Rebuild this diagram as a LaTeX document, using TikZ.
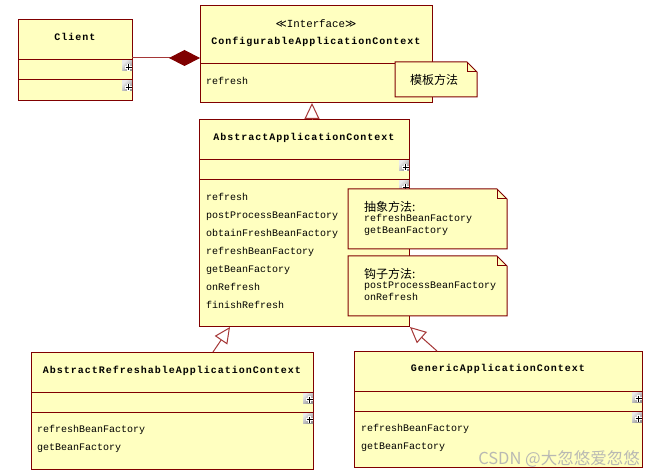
\documentclass[tikz,border=0pt]{standalone}
\usepackage{fontspec}
\usetikzlibrary{arrows.meta}
\newfontfamily\monof{Liberation Mono}
\newfontfamily\monob[LetterSpace=10]{Liberation Mono}
\newfontfamily\cjkf{Noto Sans CJK SC}
\newfontfamily\symf{DejaVu Sans}
\definecolor{clsred}{RGB}{128,0,0}
\definecolor{clsfill}{RGB}{255,255,192}
\definecolor{arrred}{RGB}{165,55,55}
\newcommand\plusicon[2]{%
  \shade[top color=gray!15,bottom color=gray!85,shading angle=45] (#1-10,#2) rectangle (#1,#2+10);
  \draw[white,line width=2.6pt] (#1-7,#2+6.5) -- (#1-0.5,#2+6.5) (#1-3.5,#2+3) -- (#1-3.5,#2+10);
  \draw[black,line width=1pt] (#1-6.5,#2+6.5) -- (#1-0.5,#2+6.5) (#1-3.5,#2+3.5) -- (#1-3.5,#2+9.5);
}
\begin{document}
\begin{tikzpicture}[x=1pt,y=-1pt,
  cls/.style={draw=clsred,fill=clsfill,line width=1pt,anchor=north west,inner sep=0pt,outer sep=0pt},
  divider/.style={draw=clsred,line width=1pt},
  cname/.style={inner sep=0pt,text height=7pt,text depth=2pt,font=\monob\bfseries\fontsize{10}{12}\selectfont},
  mtext/.style={anchor=west,inner sep=0pt,text height=7pt,text depth=2pt,font=\monof\fontsize{10}{12}\selectfont},
  ntext/.style={anchor=west,inner sep=0pt,text height=7pt,text depth=2pt,font=\monof\fontsize{10}{12}\selectfont},
  ctext/.style={anchor=west,inner sep=0pt,font=\cjkf\fontsize{12}{14}\selectfont},
  notebox/.style={draw=clsred,fill=clsfill,line width=1pt},
  inh/.style={draw=arrred,line width=1pt,-{Triangle[open,length=16pt,width=15pt]}},
  agg/.style={draw=arrred,line width=1pt,-{Diamond[length=31pt,width=16pt,fill=clsred,color=clsred]}}
]
\useasboundingbox[fill=white] (0,0) rectangle (657,476);

% Client
\node[cls,minimum width=114pt,minimum height=81pt] (client) at (18,20) {};
\draw[divider] (18,60) -- (132,60);
\draw[divider] (18,80) -- (132,80);
\node[cname] (clientname) at (75,38) {Client};
\plusicon{132}{61}
\plusicon{132}{81}

% Interface
\node[cls,minimum width=232pt,minimum height=97pt] (iface) at (200,6) {};
\draw[divider] (200,64) -- (432,64);
\node[inner sep=0pt,font=\fontsize{10.8}{12}\selectfont] (ifstereo) at (316,24) {{\symf ≪}{\monof Interface}{\symf ≫}};
\node[cname] (ifname) at (316,42) {ConfigurableApplicationContext};
\node[mtext] (ifm1) at (206,82) {refresh};

% Abstract
\node[cls,minimum width=210pt,minimum height=207pt] (abs) at (199,120) {};
\draw[divider] (199,160) -- (409,160);
\draw[divider] (199,180) -- (409,180);
\node[cname] (absname) at (304,138) {AbstractApplicationContext};
\plusicon{409}{161}
\plusicon{409}{181}
\node[mtext] (am1) at (206,198) {refresh};
\node[mtext] (am2) at (206,216) {postProcessBeanFactory};
\node[mtext] (am3) at (206,234) {obtainFreshBeanFactory};
\node[mtext] (am4) at (206,252) {refreshBeanFactory};
\node[mtext] (am5) at (206,270) {getBeanFactory};
\node[mtext] (am6) at (206,288) {onRefresh};
\node[mtext] (am7) at (206,306) {finishRefresh};

% AbstractRefreshable
\node[cls,minimum width=282pt,minimum height=117pt] (arc) at (31,352) {};
\draw[divider] (31,392) -- (313,392);
\draw[divider] (31,412) -- (313,412);
\node[cname] (arcname) at (172,371) {AbstractRefreshableApplicationContext};
\plusicon{313}{393}
\plusicon{313}{413}
\node[mtext] (rm1) at (37,430) {refreshBeanFactory};
\node[mtext] (rm2) at (37,448) {getBeanFactory};

% Generic
\node[cls,minimum width=288pt,minimum height=116pt] (gen) at (354,351) {};
\draw[divider] (354,391) -- (642,391);
\draw[divider] (354,411) -- (642,411);
\node[cname] (genname) at (498,369) {GenericApplicationContext};
\plusicon{642}{392}
\plusicon{642}{412}
\node[mtext] (gm1) at (361,429) {refreshBeanFactory};
\node[mtext] (gm2) at (361,447) {getBeanFactory};

% Notes
\draw[notebox] (395,62) -- (467,62) -- (477,72) -- (477,97) -- (395,97) -- cycle;
\draw[divider] (467,62) -- (467,72) -- (477,72);
\node[ctext,anchor=center] (n0) at (434,80) {模板方法};

\draw[notebox] (348,189) -- (497,189) -- (507,199) -- (507,249) -- (348,249) -- cycle;
\draw[divider] (497,189) -- (497,199) -- (507,199);
\node[ctext] (n1a) at (364,207) {抽象方法:};
\node[ntext] (n1b) at (364,219) {refreshBeanFactory};
\node[ntext] (n1c) at (364,231) {getBeanFactory};

\draw[notebox] (348,256) -- (497,256) -- (507,266) -- (507,316) -- (348,316) -- cycle;
\draw[divider] (497,256) -- (497,266) -- (507,266);
\node[ctext] (n2a) at (364,274) {钩子方法:};
\node[ntext] (n2b) at (364,286) {postProcessBeanFactory};
\node[ntext] (n2c) at (364,298) {onRefresh};

% Connectors
\draw[agg] (client.north east |- 0,58) -- (iface.north west |- 0,58);
\draw[inh] (abs.north -| 312,0) -- (iface.south -| 312,0);
\draw[inh] (arc.north -| 213,0) -- (abs.south -| 230,0);
\draw[inh] (gen.north -| 437,0) -- (abs.south -| 410,0);

% Watermark
\node[inner sep=0pt,font=\cjkf\fontsize{16.5}{18}\selectfont,text=gray!60,opacity=0.9] (wm) at (559,459) {CSDN @大忽悠爱忽悠};
\end{tikzpicture}
\end{document}
